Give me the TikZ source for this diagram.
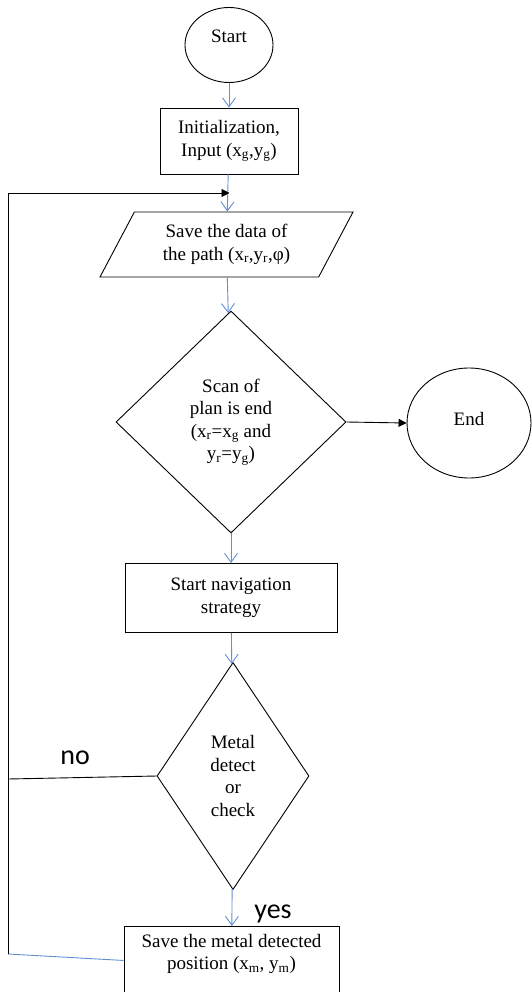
\documentclass[tikz,border=0pt]{standalone}
\usepackage{fontspec}
\setmainfont{Liberation Serif}
\newfontfamily\labfont{Carlito}
\usetikzlibrary{shapes.geometric,arrows.meta}
\definecolor{flowblue}{RGB}{98,145,210}

\begin{document}
\begin{tikzpicture}
[x=1pt, y=-1pt, font=\fontsize{19}{22.5}\selectfont, line width=0.9pt,
 box/.style={draw, rectangle, align=center, inner sep=2pt},
 oval/.style={draw, ellipse, inner sep=0pt},
 test/.style={draw, diamond, align=center, inner sep=2pt},
 flow/.style={draw=flowblue, -{Straight Barb[length=9pt,width=13pt]}},
 back/.style={draw=black, -{Triangle[length=8pt,width=8pt]}},
 yn/.style={font=\labfont\fontsize{28}{30}\selectfont, inner sep=0pt}]
\useasboundingbox (0,0) rectangle (532,992);
\clip (0,0) rectangle (532,992);
\node[oval, minimum width=88, minimum height=75, text depth=18pt] (start) at (229,45) {Start};
\node[box, minimum width=138, minimum height=66] (init) at (229,141) {Initialization,\\ Input (x\textsubscript{g},y\textsubscript{g})};
\node[draw, trapezium, trapezium left angle=52, trapezium right angle=128, trapezium stretches body, minimum width=253, minimum height=65, align=center, inner sep=2pt] (path) at (226.5,244.5) {Save the data of\\ the path (x\textsubscript{r},y\textsubscript{r},φ)};
\node[test, minimum width=230, minimum height=222] (scan) at (231,422) {Scan of\\ plan is end\\ (x\textsubscript{r}=x\textsubscript{g} and\\ y\textsubscript{r}=y\textsubscript{g})};
\node[oval, minimum width=124, minimum height=110, text depth=9pt] (finish) at (469,423) {End};
\node[box, minimum width=212, minimum height=69] (nav) at (231,598) {Start navigation\\ strategy};
\node[test, aspect=0.67, minimum width=152, minimum height=227] (metal) at (233,776) {Metal\\ detect\\ or\\ check};
\node[draw, minimum width=215, minimum height=90, anchor=north] (save) at (231.5,926) {};
\node[align=center] (savetext) at (231.5,954) {Save the metal detected\\ position (x\textsubscript{m}, y\textsubscript{m})};
\node[yn, anchor=base west] (nolab) at (60,764) {no}; \node[yn, anchor=base west] (yeslab) at (254,918) {yes};
\coordinate (loopin) at (229.5,193); \coordinate (looptop) at (8,193); \coordinate (loopbot) at (8,954); \coordinate (nojoin) at (8,779);
\draw[flow] (start) -- (init); \draw[flow] (init) -- (path); \draw[flow] (path) -- (scan);
\draw[flow] (scan) -- (nav); \draw[flow] (nav) -- (metal); \draw[flow] (metal) -- (save);
\draw[back] (scan.east) -- (finish.west);
\draw (metal.west) -- (nojoin);
\draw[flowblue] ([yshift=11pt]save.west) -- (loopbot);
\draw[back] (loopbot) -- (looptop) -- (loopin);
\end{tikzpicture}
\end{document}
